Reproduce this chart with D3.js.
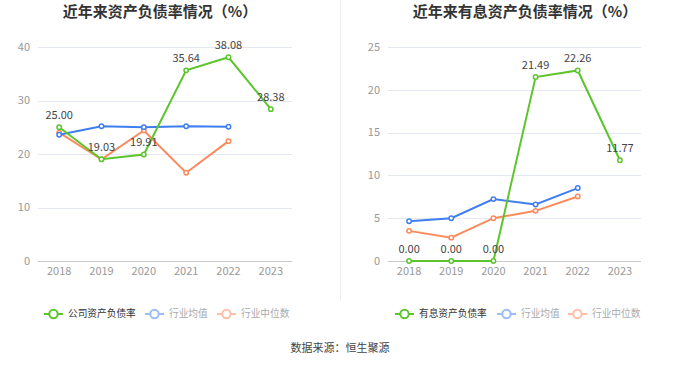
<!DOCTYPE html>
<html><head><meta charset="utf-8">
<script src="https://cdn.jsdelivr.net/npm/d3@7"></script>
<style>body{margin:0;background:#fff}svg{display:block;font-family:"Noto Sans CJK SC","Noto Sans",sans-serif}</style>
</head><body><svg id="c" width="680" height="367"></svg>
<script>
const years = ["2018","2019","2020","2021","2022","2023"];
const companyDebt = [25.00,19.03,19.91,35.64,38.08,28.38];
const industryAvgDebt = [23.6,25.2,25.0,25.2,25.1,null];
const industryMedDebt = [24.0,19.0,24.4,16.5,22.4,null];
const companyIntDebt = [0.00,0.00,0.00,21.49,22.26,11.77];
const industryAvgInt = [4.65,5.0,7.23,6.6,8.52,null];
const industryMedInt = [3.52,2.73,5.0,5.86,7.54,null];
const leftTicks = [0,10,20,30,40];
const rightTicks = [0,5,10,15,20,25];

const GREEN="#5cc52c", BLUE="#3f7ef0", ORANGE="#fb8a5c";
const svg = d3.select("#c");

svg.append("line").attr("x1",340.5).attr("x2",340.5).attr("y1",0).attr("y2",300).attr("stroke","#eeeeee");

function chart(opt){
  const g = svg.append("g");
  const x = d3.scalePoint().domain(years).range([opt.x0, opt.x1]).padding(0.5);
  const y = d3.scaleLinear().domain([0, opt.max]).range([261, 47]);
  g.append("text").attr("x",opt.cx).attr("y",17).attr("text-anchor","middle")
    .attr("font-size",15).attr("font-weight","bold").attr("fill","#333").text(opt.title);
  opt.ticks.forEach(t=>{
    if(t>0) g.append("line").attr("x1",opt.x0).attr("x2",opt.x1).attr("y1",Math.round(y(t))+0.5).attr("y2",Math.round(y(t))+0.5).attr("stroke","#e3e8f4");
    g.append("text").attr("x",opt.x0-8).attr("y",y(t)).attr("dy","0.35em").attr("text-anchor","end")
      .attr("font-size",11).attr("fill","#999").text(t);
  });
  g.append("line").attr("x1",opt.x0).attr("x2",opt.x1).attr("y1",261.5).attr("y2",261.5).attr("stroke","#c8c8c8").attr("stroke-width",1);
  years.forEach(yr=>{
    g.append("text").attr("x",x(yr)).attr("y",275).attr("text-anchor","middle").attr("font-size",11).attr("fill","#999").text(yr);
  });
  const series = [
    {vals:opt.med,color:ORANGE},
    {vals:opt.avg,color:BLUE},
    {vals:opt.comp,color:GREEN,labels:true}
  ];
  series.forEach(s=>{
    const pts = years.map((yr,i)=>({yr,v:s.vals[i]})).filter(d=>d.v!=null);
    g.append("path").datum(pts).attr("fill","none").attr("stroke",s.color).attr("stroke-width",2)
      .attr("d",d3.line().x(d=>x(d.yr)).y(d=>y(d.v)));
    pts.forEach(d=>{
      g.append("circle").attr("cx",x(d.yr)).attr("cy",y(d.v)).attr("r",2.2).attr("fill","#fff").attr("stroke",s.color).attr("stroke-width",1.5);
    });
    if(s.labels){
      pts.forEach(d=>{
        g.append("text").attr("x",x(d.yr)).attr("y",y(d.v)-8).attr("text-anchor","middle")
          .attr("font-size",11).attr("fill","#444").text(d.v.toFixed(2));
      });
    }
  });
  // legend
  const items = [
    {name:opt.legName,color:GREEN,tc:"#333",x:opt.lx[0]},
    {name:"行业均值",color:"#9dbcf7",tc:"#aaa",x:opt.lx[1]},
    {name:"行业中位数",color:"#fcc0a6",tc:"#aaa",x:opt.lx[2]}
  ];
  items.forEach(it=>{
    g.append("line").attr("x1",it.x).attr("x2",it.x+19).attr("y1",314).attr("y2",314).attr("stroke",it.color).attr("stroke-width",2);
    g.append("circle").attr("cx",it.x+9.5).attr("cy",314).attr("r",4.2).attr("fill","#fff").attr("stroke",it.color).attr("stroke-width",2);
    g.append("text").attr("x",it.x+24).attr("y",314).attr("dy","0.35em").attr("font-size",9.7).attr("fill",it.tc).text(it.name);
  });
}

chart({x0:38,x1:292,cx:160,max:40,ticks:leftTicks,title:"近年来资产负债率情况（%）",
  comp:companyDebt,avg:industryAvgDebt,med:industryMedDebt,legName:"公司资产负债率",lx:[44,145,217]});
chart({x0:388,x1:641,cx:525,max:25,ticks:rightTicks,title:"近年来有息资产负债率情况（%）",
  comp:companyIntDebt,avg:industryAvgInt,med:industryMedInt,legName:"有息资产负债率",lx:[395,497,568]});

svg.append("text").attr("x",340).attr("y",352).attr("text-anchor","middle").attr("font-size",11).attr("fill","#444").text("数据来源：恒生聚源");
</script></body></html>
